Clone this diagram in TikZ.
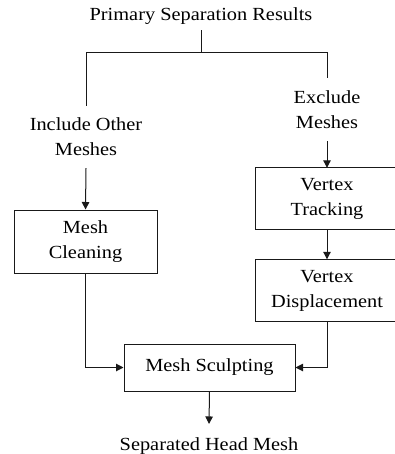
\documentclass[tikz,border=0pt]{standalone}
\usepackage{fontspec}
\setmainfont[FakeStretch=1.1]{Liberation Serif}
\usetikzlibrary{arrows.meta}
\begin{document}
\begin{tikzpicture}[x=1pt,y=-1pt,
  every node/.style={font=\fontsize{18.5}{25}\selectfont, text=black},
  line/.style={draw=black!90, line width=1pt},
  flow/.style={line, -{Triangle[length=7.5pt,width=7.5pt]}},
  proc/.style={draw=black!90, line width=1pt, align=center, inner sep=0pt},
  openproc/.style={align=center, inner sep=0pt},
  label/.style={align=center, inner sep=0pt}
]
\useasboundingbox (0,0) rectangle (394,454);

% inputs and outputs
\node[inner xsep=0pt, inner ysep=5pt, anchor=base] (title) at (201,21) {Primary Separation Results};
\node[label, minimum height=62pt] (incl) at (86,137) {Include Other\\Meshes};
\node[label, minimum height=63pt] (excl) at (327,109.5) {Exclude\\Meshes};
\node[inner xsep=0pt, inner ysep=13pt, anchor=base] (out) at (209,450) {Separated Head Mesh};

% processing steps
\node[proc, minimum width=143pt, minimum height=63pt] (clean) at (85.5,241.5) {Mesh\\Cleaning};
\node[openproc, minimum width=142pt, minimum height=61pt] (track) at (327,198.5) {Vertex\\Tracking};
\node[openproc, minimum width=142pt, minimum height=62pt] (disp) at (327,290.5) {Vertex\\Displacement};
\node[proc, minimum width=171pt, minimum height=47pt] (sculpt) at (209.5,367.5) {Mesh Sculpting};

% the right-hand boxes run past the page edge
\draw[line] ([xshift=12pt]track.north east) -- (track.north west) -- (track.south west) -- ([xshift=12pt]track.south east);
\draw[line] ([xshift=12pt]disp.north east) -- (disp.north west) -- (disp.south west) -- ([xshift=12pt]disp.south east);

% branching from the separation results
\coordinate (split) at (201,53);
\draw[line] (title.south) -- (split);
\draw[line] (split) -| (incl.north);
\draw[line] (split) -| (excl.north);

% main flow
\draw[flow] (incl.south) -- (clean.north);
\draw[flow] (excl.south) -- (track.north);
\draw[flow] (track.south) -- (disp.north);
\draw[flow] (clean.south) |- (sculpt.west);
\draw[flow] (disp.south) |- (sculpt.east);
\draw[flow] (sculpt.south) -- (out.north);
\end{tikzpicture}
\end{document}
